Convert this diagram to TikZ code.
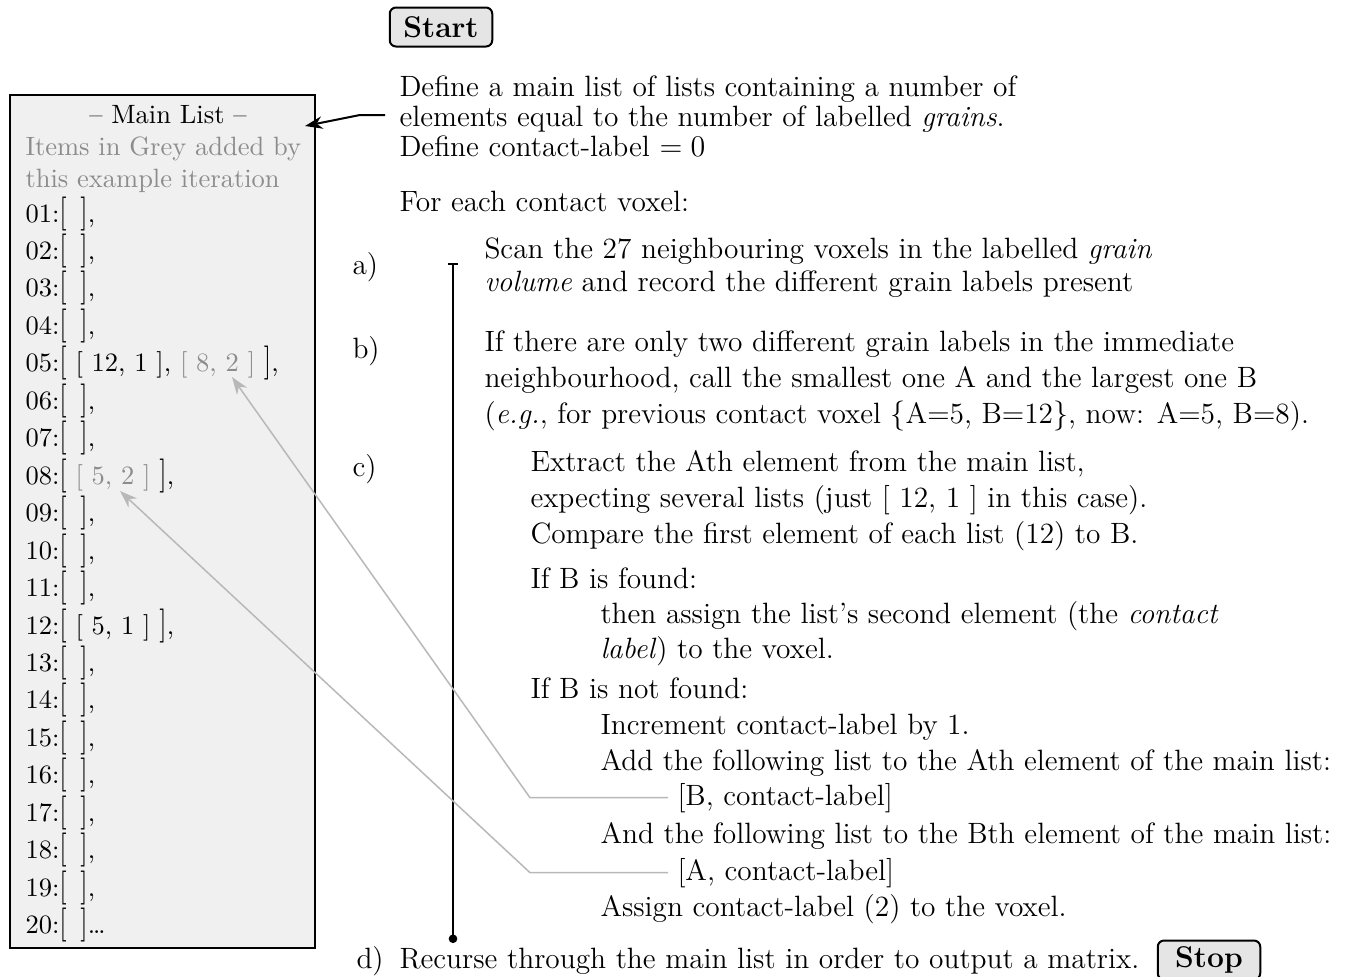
\documentclass[tikz,border=0pt]{standalone}
\usepackage{graphicx}
\usetikzlibrary{arrows.meta,calc}
\definecolor{listfill}{gray}{0.94}
\definecolor{boxfill}{gray}{0.9}
\definecolor{greytext}{gray}{0.55}
\definecolor{greyline}{gray}{0.72}
\newcommand\rightsize{\fontsize{11.75}{14}\selectfont}
\newcommand\listsize{\fontsize{10.6}{12.7}\selectfont}
\newcommand\mlL{\scalebox{1}[1.28]{[}}
\newcommand\mlR{\scalebox{1}[1.28]{]}}
\newcommand\mlE{\mlL\hspace{5.5pt}\mlR}
\begin{document}
\begin{tikzpicture}[x=0.4pt,y=-0.4pt,
  txt/.style={anchor=base west, inner sep=0pt, font=\rightsize},
  mltxt/.style={anchor=base west, inner sep=0pt, font=\listsize},
  gtxt/.style={anchor=base west, inner sep=0pt, text=greytext, font=\listsize},
  termbox/.style={draw, line width=0.8pt, rounded corners=2.5pt, fill=boxfill, font=\large\bfseries, minimum width=41pt, minimum height=15.6pt, inner sep=2pt},
  greyarrow/.style={draw=greyline, line width=0.6pt, -{Stealth[length=7pt,width=5pt]}},
  blackarrow/.style={draw=black, line width=0.8pt, -{Stealth[length=7pt,width=5pt]}}]
\useasboundingbox (0,0) rectangle (1349,976);

% Main list box
\node[draw, line width=1pt, fill=listfill, minimum width=122pt, minimum height=341.2pt, inner sep=0pt] (mainlist) at (162.5,521.5) {};
\node[anchor=base, inner sep=0pt, font=\listsize] (mltitle) at (168,123) {-- Main List --};
\node[gtxt] (mlg1) at (25,155) {Items in Grey added by};
\node[gtxt] (mlg2) at (25,187) {this example iteration};
\node[mltxt] (ml01) at (25,222.0) {01:\mlE,};
\node[mltxt] (ml02) at (25,259.5) {02:\mlE,};
\node[mltxt] (ml03) at (25,296.9) {03:\mlE,};
\node[mltxt] (ml04) at (25,334.4) {04:\mlE,};
\node[mltxt] (ml05) at (25,371.8) {05:\mlL\ [ 12, 1 ], \textcolor{greytext}{[ 8, 2 ]}\ \mlR,};
\node[mltxt] (ml06) at (25,409.3) {06:\mlE,};
\node[mltxt] (ml07) at (25,446.7) {07:\mlE,};
\node[mltxt] (ml08) at (25,484.2) {08:\mlL\ \textcolor{greytext}{[ 5, 2 ]}\ \mlR,};
\node[mltxt] (ml09) at (25,521.6) {09:\mlE,};
\node[mltxt] (ml10) at (25,559.1) {10:\mlE,};
\node[mltxt] (ml11) at (25,596.5) {11:\mlE,};
\node[mltxt] (ml12) at (25,634.0) {12:\mlL\ [ 5, 1 ]\ \mlR,};
\node[mltxt] (ml13) at (25,671.4) {13:\mlE,};
\node[mltxt] (ml14) at (25,708.9) {14:\mlE,};
\node[mltxt] (ml15) at (25,746.3) {15:\mlE,};
\node[mltxt] (ml16) at (25,783.8) {16:\mlE,};
\node[mltxt] (ml17) at (25,821.2) {17:\mlE,};
\node[mltxt] (ml18) at (25,858.7) {18:\mlE,};
\node[mltxt] (ml19) at (25,896.1) {19:\mlE,};
\node[mltxt] (ml20) at (25,933.6) {20:\mlE\dots};

% Start / Stop
\node[termbox] (start) at (441,27) {Start};
\node[termbox] (stop) at (1209,960) {Stop};

% Right text
\node[txt] (def1) at (399,96) {Define a main list of lists containing a number of};
\node[txt] (def2) at (399,126) {elements equal to the number of labelled \textit{grains}.};
\node[txt] (def3) at (399,156) {Define contact-label $=0$};
\node[txt] (foreach) at (399,211) {For each contact voxel:};

\node[txt] (la) at (352,274) {a)};
\node[txt] (a1) at (484,258) {Scan the 27 neighbouring voxels in the labelled \textit{grain}};
\node[txt] (a2) at (484,291) {\textit{volume} and record the different grain labels present};

\node[txt] (lb) at (352,358) {b)};
\node[txt] (b1) at (484,351) {If there are only two different grain labels in the immediate};
\node[txt] (b2) at (484,387) {neighbourhood, call the smallest one A and the largest one B};
\node[txt] (b3) at (484,423) {(\textit{e.g.}, for previous contact voxel $\{$A=5, B=12$\}$, now: A=5, B=8).};

\node[txt] (lc) at (352,476) {c)};
\node[txt] (c1) at (530,471) {Extract the Ath element from the main list,};
\node[txt] (c2) at (530,507) {expecting several lists (just [ 12, 1 ] in this case).};
\node[txt] (c3) at (530,543) {Compare the first element of each list (12) to B.};
\node[txt] (c4) at (530,588) {If B is found:};
\node[txt] (c5) at (600,623) {then assign the list's second element (the \textit{contact}};
\node[txt] (c6) at (600,658) {\textit{label}) to the voxel.};
\node[txt] (c7) at (530,698) {If B is not found:};
\node[txt] (c8) at (600,734) {Increment contact-label by 1.};
\node[txt] (c9) at (600,770) {Add the following list to the Ath element of the main list:};
\node[txt] (bitem) at (677,805) {[B, contact-label]};
\node[txt] (c10) at (600,843) {And the following list to the Bth element of the main list:};
\node[txt] (aitem) at (677,880) {[A, contact-label]};
\node[txt] (c11) at (600,916) {Assign contact-label (2) to the voxel.};

\node[txt] (ld) at (356,968) {d)};
\node[txt] (d1) at (399,968) {Recurse through the main list in order to output a matrix.};

% Vertical bracket line
\coordinate (vtop) at (453,263);
\coordinate (vbot) at (453,943);
\draw[line width=0.8pt, {Bar[width=4pt]}-{Circle[length=3.4pt]}] (vtop) -- (vbot);

% Arrow to main list
\coordinate (arrstart) at (385,115);
\coordinate (mltip) at (305,126);
\draw[blackarrow] (arrstart) -- ++(-25,0) -- (mltip);

% Grey arrows
\coordinate (tipB) at (232,377);
\coordinate (tipA) at (120,491);
\draw[greyarrow] ($(bitem.west)+(-9,0)$) -- ++(-138,0) coordinate (bendB) -- (tipB);
\draw[greyarrow] ($(aitem.west)+(-9,0)$) -- ++(-138,0) coordinate (bendA) -- (tipA);
\end{tikzpicture}
\end{document}
